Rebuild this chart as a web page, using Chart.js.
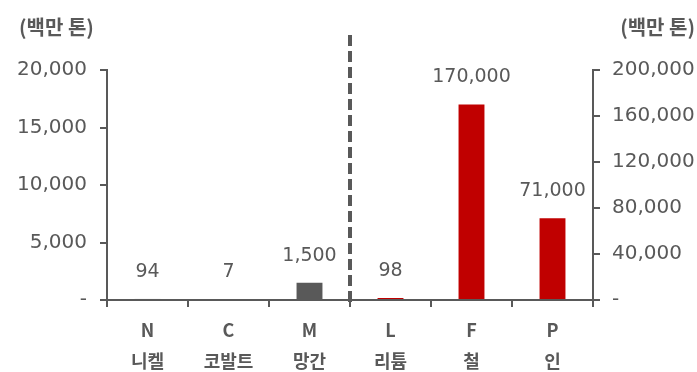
<!DOCTYPE html>
<html>
<head>
<meta charset="utf-8">
<script src="https://cdn.jsdelivr.net/npm/chart.js@4.4.1/dist/chart.umd.min.js"></script>
<style>
  html, body { margin: 0; padding: 0; background: #fff; }
  #wrap { width: 697px; height: 372px; }
</style>
</head>
<body>
<div id="wrap"><canvas id="chart"></canvas></div>
<script>
// Categories: symbol + Korean name
const symbols = ['N', 'C', 'M', 'L', 'F', 'P'];
const names = ['니켈', '코발트', '망간', '리튬', '철', '인'];

// Left axis (million tonnes): N, C, M
const leftValues = [94, 7, 1500, null, null, null];
// Right axis (million tonnes): L, F, P
const rightValues = [null, null, null, 98, 170000, 71000];

const leftColors = ['#a6a6a6', '#a6a6a6', '#595959', null, null, null];
const rightColor = '#c00000';

const leftTicks = [0, 5000, 10000, 15000, 20000];
const rightTicks = [0, 40000, 80000, 120000, 160000, 200000];

const unitLabel = '(백만 톤)';
const textColor = '#595959';
const fontFamily = "'DejaVu Sans', 'Noto Sans CJK KR', sans-serif";
const korFont = "'Noto Sans CJK KR', 'DejaVu Sans', sans-serif";

function fmt(v) {
  return v === 0 ? '-' : v.toLocaleString('en-US');
}

// Value labels above bars, dashed divider and unit captions
const overlay = {
  id: 'overlay',
  afterDatasetsDraw(chart) {
    const ctx = chart.ctx;
    ctx.save();
    ctx.fillStyle = textColor;
    ctx.font = '19px ' + fontFamily;
    ctx.textAlign = 'center';
    ctx.textBaseline = 'middle';
    chart.data.datasets.forEach((ds, di) => {
      const meta = chart.getDatasetMeta(di);
      meta.data.forEach((bar, i) => {
        const v = ds.data[i];
        if (v == null) return;
        ctx.fillText(fmt(v), bar.x, bar.y - 27);
      });
    });

    // dashed divider between the two axis groups
    const x = chart.scales.x;
    const mid = (x.getPixelForValue(2) + x.getPixelForValue(3)) / 2;
    ctx.strokeStyle = textColor;
    ctx.lineWidth = 4;
    ctx.setLineDash([11, 5]);
    ctx.beginPath();
    ctx.moveTo(mid, 35);
    ctx.lineTo(mid, chart.chartArea.bottom + 7);
    ctx.stroke();
    ctx.setLineDash([]);

    ctx.font = 'bold 20px ' + korFont;
    ctx.textAlign = 'left';
    ctx.fillText(unitLabel, 19, 27);
    ctx.textAlign = 'right';
    ctx.fillText(unitLabel, 695, 27);
    ctx.restore();
  }
};

const axisGrid = {
  display: true,
  drawOnChartArea: false,
  drawTicks: true,
  tickLength: 7,
  color: textColor,
  lineWidth: 2
};
const axisBorder = { display: true, color: textColor, width: 2 };

new Chart(document.getElementById('chart'), {
  type: 'bar',
  data: {
    labels: symbols.map((s, i) => [s, names[i]]),
    datasets: [
      {
        data: leftValues,
        yAxisID: 'y',
        backgroundColor: leftColors,
        barPercentage: 0.32,
        categoryPercentage: 1,
        minBarLength: 1,
        grouped: false
      },
      {
        data: rightValues,
        yAxisID: 'y1',
        backgroundColor: rightColor,
        barPercentage: 0.32,
        categoryPercentage: 1,
        minBarLength: 2,
        grouped: false
      }
    ]
  },
  options: {
    responsive: true,
    maintainAspectRatio: false,
    animation: false,
    layout: { padding: { top: 70, left: 0, right: 0, bottom: 0 } },
    plugins: {
      legend: { display: false },
      tooltip: { enabled: false }
    },
    scales: {
      x: {
        grid: axisGrid,
        border: axisBorder,
        afterFit(scale) { scale.height = 72; },
        ticks: {
          color: textColor,
          padding: 8,
          font: { family: korFont, size: 18, weight: 'bold', lineHeight: 1.7 }
        }
      },
      y: {
        position: 'left',
        min: 0,
        max: 20000,
        grid: axisGrid,
        border: axisBorder,
        afterFit(scale) { scale.width = 107; },
        afterBuildTicks(scale) { scale.ticks = leftTicks.map(v => ({ value: v })); },
        ticks: {
          color: textColor,
          padding: 13,
          font: { family: fontFamily, size: 20 },
          callback: v => fmt(v)
        }
      },
      y1: {
        position: 'right',
        min: 0,
        max: 200000,
        grid: axisGrid,
        border: axisBorder,
        afterFit(scale) { scale.width = 104; },
        afterBuildTicks(scale) { scale.ticks = rightTicks.map(v => ({ value: v })); },
        ticks: {
          color: textColor,
          padding: 12,
          font: { family: fontFamily, size: 20 },
          callback: v => fmt(v)
        }
      }
    }
  },
  plugins: [overlay]
});
</script>
</body>
</html>
